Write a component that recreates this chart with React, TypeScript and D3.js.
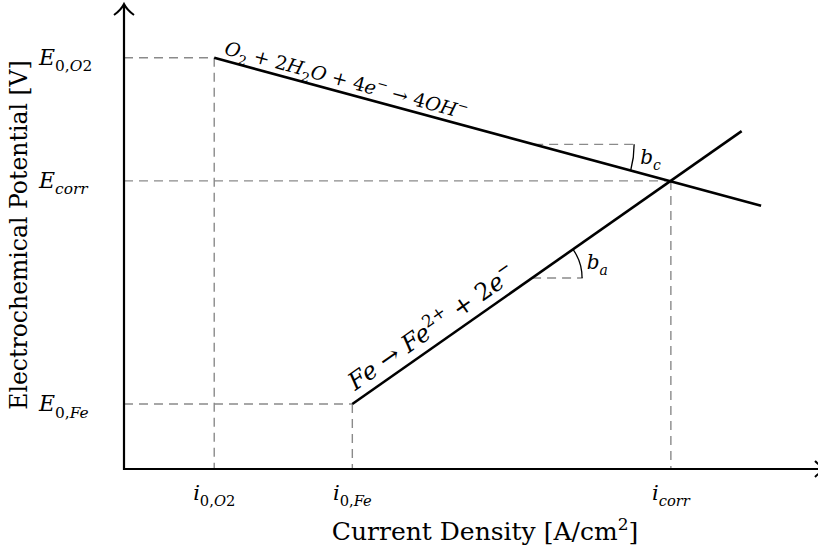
import React from "react";
import * as d3 from "d3";

// abstract units: x = log current density, y = potential
const currentNames = ["0,O2", "0,Fe", "corr"];
const currentValues = [1.3, 3.29, 7.88];
const potentialNames = ["0,O2", "0,Fe", "corr"];
const potentialValues = [8.92, 1.41, 6.25];

const cathodicLine = [
  [1.3, 8.92],
  [9.18, 5.71],
];
const anodicLine = [
  [3.29, 1.41],
  [8.9, 7.33],
];

// tafel slope markers: start x on the line, end x of the dashed run
const slopeMarkers = [
  { name: "c", x0: 5.91, x1: 7.38, line: cathodicLine, r: 100 },
  { name: "a", x0: 5.88, x1: 6.61, line: anodicLine, r: 50 },
];

const cathodicEq = [
  ["O", ""], ["2", "sub"], [" + 2", ""], ["H", ""], ["2", "sub"], ["O + 4", ""],
  ["e", ""], ["−", "sup"], [" → 4", ""], ["OH", ""], ["−", "sup"],
];
const anodicEq = [
  ["Fe → Fe", ""], ["2+", "sup"], [" + 2", ""], ["e", ""], ["−", "sup"],
];

const width = 818,
  height = 556;
const FONT = "DejaVu Serif";
const DASH = "#8a8a8a";

const x = d3.scaleLinear().domain([0, 10]).range([124, 818]);
const y = d3.scaleLinear().domain([0, 10]).range([469, 8]);

// split text into italic letter runs and upright others
const runs = (s, size) => {
  const parts = s.match(/[A-Za-z]+|[^A-Za-z]+/g) || [];
  return parts.map((p, i) => (
    <tspan key={i} fontStyle={/[A-Za-z]/.test(p) ? "italic" : "normal"} fontSize={size}>
      {p}
    </tspan>
  ));
};

const MathText = ({ segs, size, ...rest }) => {
  let off = 0;
  const small = size * 0.7;
  return (
    <text fontFamily={FONT} fontSize={size} {...rest}>
      {segs.map(([t, kind], i) => {
        const target = kind === "sub" ? size * 0.3 : kind === "sup" ? -size * 0.42 : 0;
        const dy = target - off;
        off = target;
        return (
          <tspan key={i} dy={dy}>
            {runs(t, kind ? small : size)}
          </tspan>
        );
      })}
    </text>
  );
};

const lineAt = (line, xv) => {
  const [[a, b], [c, d]] = line;
  return b + ((xv - a) * (d - b)) / (c - a);
};

const angleOf = (line) => {
  const [[a, b], [c, d]] = line;
  return Math.atan2(y(d) - y(b), x(c) - x(a));
};

const App = () => {
  const path = d3.line().x((d) => x(d[0])).y((d) => y(d[1]));
  // guide points: (i0O2,E0O2), (i0Fe,E0Fe), (icorr,Ecorr)
  const pts = currentValues.map((v, i) => [v, potentialValues[i]]);
  const angC = angleOf(cathodicLine);
  const angA = angleOf(anodicLine);

  return (
    <svg width={width} height={height} style={{ position: "absolute", left: 0, top: 0 }}>
      <rect width={width} height={height} fill="#fff" />

      {/* dashed guides */}
      {pts.map((p, i) => (
        <g key={i} stroke={DASH} strokeWidth={1.4} strokeDasharray="9,6" fill="none">
          <line x1={x(0)} x2={x(p[0])} y1={y(p[1])} y2={y(p[1])} />
          <line x1={x(p[0])} x2={x(p[0])} y1={y(p[1])} y2={y(0)} />
        </g>
      ))}

      {/* slope markers */}
      {slopeMarkers.map((m) => {
        const cy = y(lineAt(m.line, m.x0));
        const cx = x(m.x0);
        const ang = angleOf(m.line);
        const ex = cx + m.r * Math.cos(ang);
        const ey = cy + m.r * Math.sin(ang);
        const mid = ang / 2;
        const lx = cx + m.r * Math.cos(mid) + 7;
        const ly = cy + m.r * Math.sin(mid) + 6;
        return (
          <g key={m.name}>
            <line x1={cx} x2={x(m.x1)} y1={cy} y2={cy} stroke={DASH} strokeWidth={1.4} strokeDasharray="9,6" />
            <path
              d={`M${cx + m.r},${cy} A${m.r},${m.r} 0 0 ${ang > 0 ? 1 : 0} ${ex},${ey}`}
              fill="none"
              stroke="#000"
              strokeWidth={1.3}
            />
            <MathText segs={[["b", ""], [m.name, "sub"]]} size={20} x={lx} y={ly} />
          </g>
        );
      })}

      {/* polarisation lines */}
      <path d={path(cathodicLine)} stroke="#000" strokeWidth={2.6} fill="none" />
      <path d={path(anodicLine)} stroke="#000" strokeWidth={2.6} fill="none" />

      {/* reaction labels */}
      <g transform={`translate(${x(cathodicLine[0][0])},${y(cathodicLine[0][1])}) rotate(${(angC * 180) / Math.PI})`}>
        <MathText segs={cathodicEq} size={19} x={8} y={-6} />
      </g>
      <g transform={`translate(${x(anodicLine[0][0])},${y(anodicLine[0][1])}) rotate(${(angA * 180) / Math.PI})`}>
        <MathText segs={anodicEq} size={24} x={10} y={-9} />
      </g>

      {/* axes */}
      <line x1={x(0)} x2={x(0)} y1={y(0) + 1} y2={5} stroke="#000" strokeWidth={2.2} />
      <line x1={x(0) - 1} x2={826} y1={y(0)} y2={y(0)} stroke="#000" strokeWidth={2.2} />
      <path d={`M${x(0) - 10},15 Q${x(0) - 3},10 ${x(0)},4 Q${x(0) + 3},10 ${x(0) + 10},15`} fill="none" stroke="#000" strokeWidth={2} />
      <path d={`M815,${y(0) - 8} Q821,${y(0) - 2} 827,${y(0)} Q821,${y(0) + 2} 815,${y(0) + 8}`} fill="none" stroke="#000" strokeWidth={2} />

      {/* tick labels */}
      {potentialValues.map((v, i) => (
        <MathText key={i} segs={[["E", ""], [potentialNames[i], "sub"]]} size={22} x={39} y={y(v) + 7} />
      ))}
      {currentValues.map((v, i) => (
        <MathText
          key={i}
          segs={[["i", ""], [currentNames[i], "sub"]]}
          size={21}
          x={x(v)}
          y={500}
          textAnchor="middle"
        />
      ))}

      {/* axis titles */}
      <text x={485} y={540} textAnchor="middle" fontFamily={FONT} fontSize={25}>
        Current Density [A/cm<tspan dy={-10} fontSize={17}>2</tspan>
        <tspan dy={10}>]</tspan>
      </text>
      <text
        transform={`translate(27,${235}) rotate(-90)`}
        textAnchor="middle"
        fontFamily={FONT}
        fontSize={23.5}
      >
        Electrochemical Potential [V]
      </text>
    </svg>
  );
};

export default App;
